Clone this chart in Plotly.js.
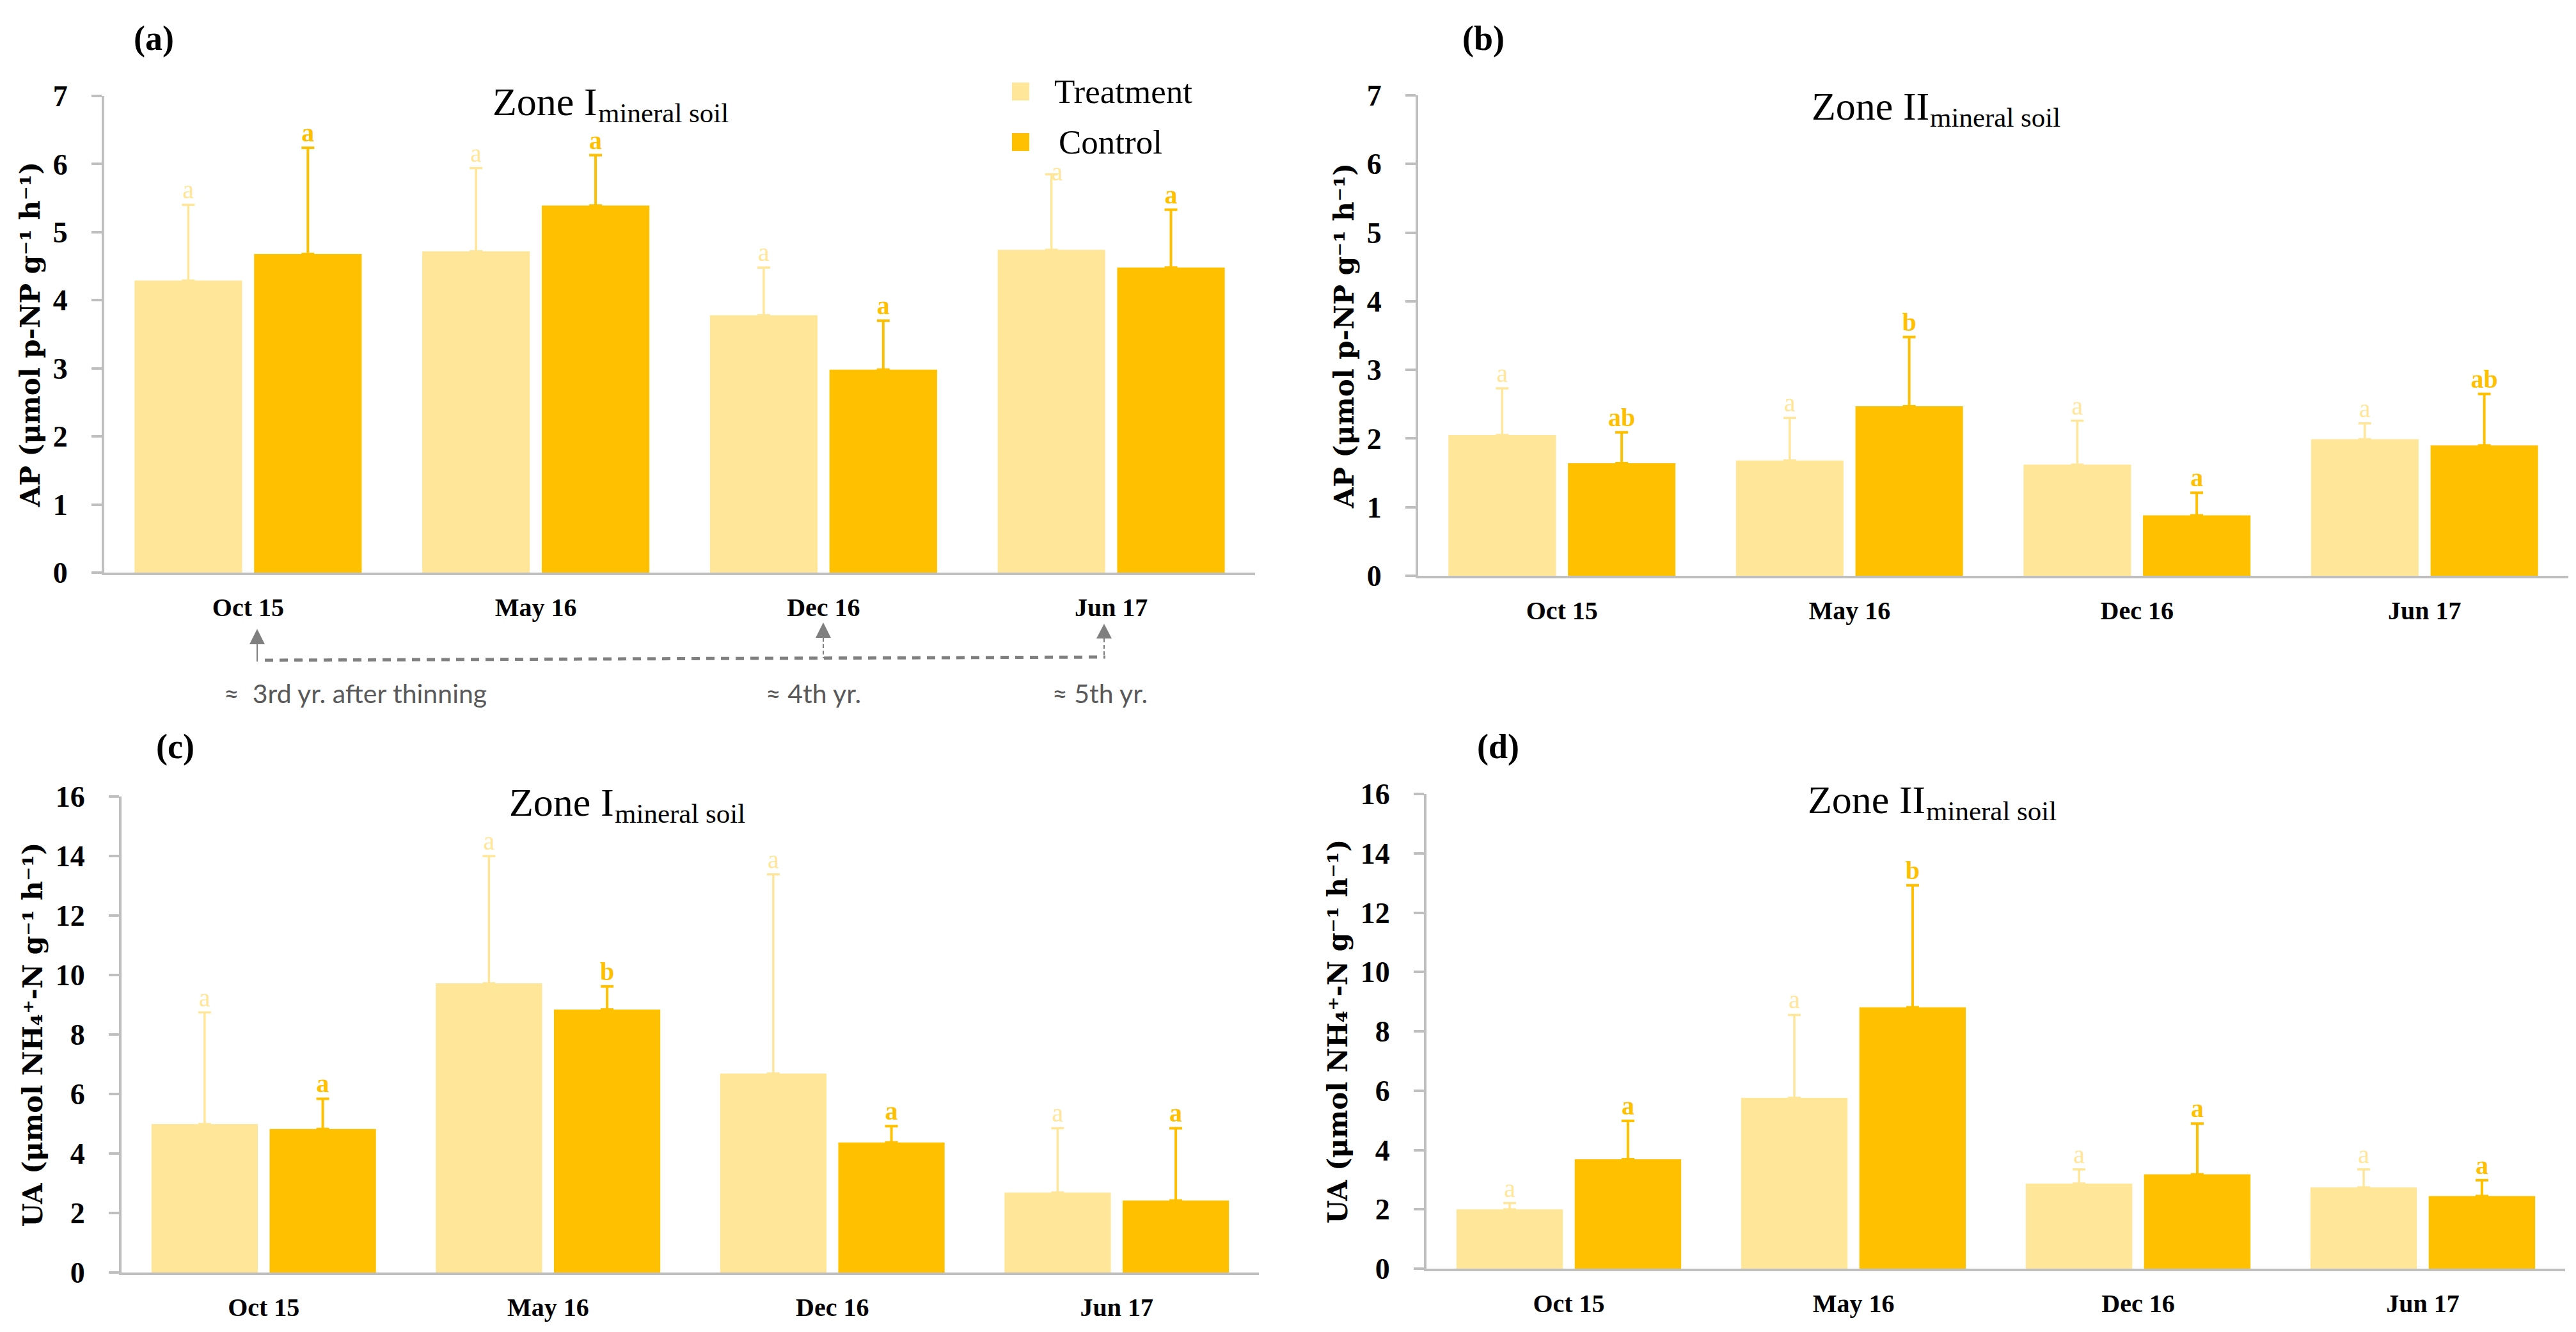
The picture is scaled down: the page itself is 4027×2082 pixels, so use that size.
<!DOCTYPE html>
<html>
<head>
<meta charset="utf-8">
<script src="https://cdn.plot.ly/plotly-3.0.1.min.js"></script>
<style>html,body{margin:0;padding:0;background:#fff;}#chart{width:4027px;height:2082px;}</style>
</head>
<body>
<div id="chart"></div>
<script>
// ---------------- DATA ----------------
const categories = ["Oct 15", "May 16", "Dec 16", "Jun 17"];
const seriesNames = ["Treatment", "Control"];

// (a) AP, Zone I
const apZone1Treatment = [4.29, 4.72, 3.78, 4.74];
const apZone1TreatmentSD = [1.11, 1.22, 0.70, 1.11];
const apZone1Control = [4.68, 5.39, 2.98, 4.48];
const apZone1ControlSD = [1.56, 0.74, 0.72, 0.85];
const apZone1TreatmentLetters = ["a", "a", "a", "a"];
const apZone1ControlLetters = ["a", "a", "a", "a"];

// (b) AP, Zone II
const apZone2Treatment = [2.05, 1.68, 1.62, 1.99];
const apZone2TreatmentSD = [0.68, 0.62, 0.64, 0.23];
const apZone2Control = [1.64, 2.47, 0.88, 1.90];
const apZone2ControlSD = [0.45, 1.01, 0.33, 0.75];
const apZone2TreatmentLetters = ["a", "a", "a", "a"];
const apZone2ControlLetters = ["ab", "b", "a", "ab"];

// (c) UA, Zone I
const uaZone1Treatment = [4.99, 9.72, 6.69, 2.69];
const uaZone1TreatmentSD = [3.75, 4.28, 6.69, 2.16];
const uaZone1Control = [4.82, 8.84, 4.37, 2.42];
const uaZone1ControlSD = [1.02, 0.78, 0.55, 2.43];
const uaZone1TreatmentLetters = ["a", "a", "a", "a"];
const uaZone1ControlLetters = ["a", "b", "a", "a"];

// (d) UA, Zone II
const uaZone2Treatment = [2.00, 5.76, 2.87, 2.74];
const uaZone2TreatmentSD = [0.21, 2.79, 0.48, 0.61];
const uaZone2Control = [3.69, 8.81, 3.18, 2.45];
const uaZone2ControlSD = [1.29, 4.11, 1.71, 0.53];
const uaZone2TreatmentLetters = ["a", "a", "a", "a"];
const uaZone2ControlLetters = ["a", "b", "a", "a"];

const apTickVals = [0, 1, 2, 3, 4, 5, 6, 7];
const uaTickVals = [0, 2, 4, 6, 8, 10, 12, 14, 16];
const apTitle = "AP (μmol p-NP g⁻¹ h⁻¹)";
const uaTitle = "UA (μmol NH₄⁺-N g⁻¹ h⁻¹)";
const zoneMain = ["Zone I", "Zone II", "Zone I", "Zone II"];
const zoneSub = "mineral soil";
const panelLabels = ["(a)", "(b)", "(c)", "(d)"];
const timeNotes = ["≈  3rd yr. after thinning", "≈ 4th yr.", "≈ 5th yr."];

// ---------------- STYLE ----------------
const W = 4027, H = 2082;
const colT = "#FFE699", colC = "#FFC000";
const axisGray = "#BFBFBF";
const serif = "Liberation Serif";
const BARGAP = 0.169, GROUPGAP = 0.10;
const px = x => x / W;
const py = y => 1 - y / H;
const ZONE_FS = 62, SUB_FS = 43;
const zoneWidthEm = {"Zone I": 2.638, "Zone II": 2.971};   // Times-metric advance widths

const panels = [
  {id: "", T: apZone1Treatment, Tsd: apZone1TreatmentSD, C: apZone1Control, Csd: apZone1ControlSD,
   TL: apZone1TreatmentLetters, CL: apZone1ControlLetters, ticks: apTickVals, ymax: 7, ytitle: apTitle,
   dom: {x: [163, 1962], y: [895, 150]}, zoneAt: [769, 180], labelPos: [240, 60]},
  {id: "2", T: apZone2Treatment, Tsd: apZone2TreatmentSD, C: apZone2Control, Csd: apZone2ControlSD,
   TL: apZone2TreatmentLetters, CL: apZone2ControlLetters, ticks: apTickVals, ymax: 7, ytitle: apTitle,
   dom: {x: [2217, 4015], y: [900, 149]}, zoneAt: [2831, 187], labelPos: [2319, 60]},
  {id: "3", T: uaZone1Treatment, Tsd: uaZone1TreatmentSD, C: uaZone1Control, Csd: uaZone1ControlSD,
   TL: uaZone1TreatmentLetters, CL: uaZone1ControlLetters, ticks: uaTickVals, ymax: 16, ytitle: uaTitle,
   dom: {x: [190, 1968], y: [1989, 1245]}, zoneAt: [795, 1275], labelPos: [274, 1167]},
  {id: "4", T: uaZone2Treatment, Tsd: uaZone2TreatmentSD, C: uaZone2Control, Csd: uaZone2ControlSD,
   TL: uaZone2TreatmentLetters, CL: uaZone2ControlLetters, ticks: uaTickVals, ymax: 16, ytitle: uaTitle,
   dom: {x: [2230, 4010], y: [1983, 1241]}, zoneAt: [2825, 1271], labelPos: [2342, 1167]}
];

const traces = [];
const annotations = [];
const layout = {
  width: W, height: H, margin: {l: 0, r: 0, t: 0, b: 0},
  paper_bgcolor: "#fff", plot_bgcolor: "rgba(0,0,0,0)",
  barmode: "group", bargap: BARGAP, bargroupgap: GROUPGAP,
  scattermode: "group", scattergap: BARGAP,
  showlegend: false, font: {family: serif, color: "#000"},
  shapes: []
};

panels.forEach((p, k) => {
  const xa = "x" + p.id, ya = "y" + p.id;
  const zeros = p.T.map(() => 0);
  const groups = [
    {vals: p.T, sd: p.Tsd, col: colT, name: seriesNames[0], th: 3.5, letters: p.TL, wt: "normal"},
    {vals: p.C, sd: p.Csd, col: colC, name: seriesNames[1], th: 4, letters: p.CL, wt: "bold"}
  ];
  groups.forEach(g => {
    traces.push({
      type: "bar", x: categories, y: g.vals, name: g.name, xaxis: xa, yaxis: ya,
      marker: {color: g.col, line: {width: 0}}, textposition: "none",
      error_y: {type: "data", symmetric: false, array: g.sd, arrayminus: zeros, color: g.col, thickness: g.th, width: 10},
      hoverinfo: "x+y+name"
    });
  });
  // significance letters at the top of each error bar
  groups.forEach((g, gi) => {
    const pos = categories.map((c, i) => (k === 0 && gi === 0 && i === 3) ? "middle right" : "top center");
    traces.push({
      type: "scatter", mode: "text", x: categories, y: g.vals.map((v, i) => v + g.sd[i]),
      text: g.letters, textposition: pos, xaxis: xa, yaxis: ya, name: g.name + " letters",
      textfont: {family: serif, size: 40, color: g.col, weight: g.wt}, hoverinfo: "skip", cliponaxis: false
    });
  });
  layout["xaxis" + p.id] = {
    domain: [px(p.dom.x[0]), px(p.dom.x[1])], anchor: ya,
    type: "category", categoryorder: "array", categoryarray: categories, range: [-0.5, 3.5],
    showline: true, linecolor: axisGray, linewidth: 4, ticks: "", showgrid: false, zeroline: false,
    tickfont: {family: serif, size: 40, color: "#000", weight: "bold"}, ticklabelstandoff: 16, fixedrange: true
  };
  layout["yaxis" + p.id] = {
    domain: [py(p.dom.y[0]), py(p.dom.y[1])], anchor: xa,
    range: [0, p.ymax], tickvals: p.ticks, ticktext: p.ticks.map(String),
    showline: true, linecolor: axisGray, linewidth: 4, ticks: "outside", ticklen: 16, tickwidth: 4, tickcolor: axisGray,
    showgrid: false, zeroline: false, ticklabelstandoff: 28,
    tickfont: {family: serif, size: 46, color: "#000", weight: "bold"},
    title: {text: p.ytitle, font: {family: "DejaVu Serif", size: 42, color: "#000", weight: "bold"}, standoff: 8},
    fixedrange: true
  };
  // zone title: main text + lowered smaller part
  const [zx, zb] = p.zoneAt;
  const main = zoneMain[k];
  annotations.push({xref: "paper", yref: "paper", x: px(zx), y: py(zb - 0.3375 * ZONE_FS), xanchor: "left", yanchor: "middle",
    text: main, showarrow: false, font: {family: serif, size: ZONE_FS, color: "#000"}, borderpad: 0});
  annotations.push({xref: "paper", yref: "paper", x: px(zx + zoneWidthEm[main] * ZONE_FS + 1), y: py(zb + 11 - 0.3375 * SUB_FS),
    xanchor: "left", yanchor: "middle", text: zoneSub, showarrow: false, font: {family: serif, size: SUB_FS, color: "#000"}, borderpad: 0});
  // panel label
  annotations.push({xref: "paper", yref: "paper", x: px(p.labelPos[0]), y: py(p.labelPos[1]), xanchor: "center", yanchor: "middle",
    text: panelLabels[k], showarrow: false, font: {family: serif, size: 54, color: "#000", weight: "bold"}});
});

// legend (drawn inside panel a)
[[seriesNames[0], colT, 143, 1646], [seriesNames[1], colC, 222, 1653]].forEach(([n, col, yc, xt]) => {
  layout.shapes.push({type: "rect", xref: "paper", yref: "paper", x0: px(1582), x1: px(1609), y0: py(yc - 14), y1: py(yc + 14),
    fillcolor: col, line: {width: 0}});
  annotations.push({xref: "paper", yref: "paper", x: px(xt), y: py(yc), xanchor: "left", yanchor: "middle",
    text: n, showarrow: false, font: {family: serif, size: 53, color: "#000"}});
});

// timeline arrows under panel (a)
const arrowGray = "#7F7F7F";
const arrows = [[402, 983, 1007, 1034, "solid"], [1287, 973, 997, 1029, "dash"], [1726, 975, 998, 1027, "dash"]];
arrows.forEach(([x, tip, base, bottom, st]) => {
  layout.shapes.push({type: "path", xref: "paper", yref: "paper",
    path: `M${px(x)},${py(tip)} L${px(x - 12)},${py(base)} L${px(x + 12)},${py(base)} Z`,
    fillcolor: arrowGray, line: {width: 0}});
  layout.shapes.push({type: "line", xref: "paper", yref: "paper", x0: px(x), x1: px(x), y0: py(base), y1: py(bottom),
    line: {color: arrowGray, width: 2, dash: st === "solid" ? "solid" : "6px,4px"}});
});
layout.shapes.push({type: "line", xref: "paper", yref: "paper", x0: px(414), x1: px(1728), y0: py(1032), y1: py(1027),
  line: {color: "#808080", width: 5, dash: "13px,10px"}});
[[timeNotes[0], 348, "left"], [timeNotes[1], 1271, "center"], [timeNotes[2], 1719, "center"]].forEach(([t, x, xa]) => {
  annotations.push({xref: "paper", yref: "paper", x: px(x), y: py(1083), xanchor: xa, yanchor: "middle",
    text: t, showarrow: false, font: {family: "Lato", size: 41, color: "#595959"}});
});

layout.annotations = annotations;
Plotly.newPlot("chart", traces, layout, {displayModeBar: false, staticPlot: true});
</script>
</body>
</html>
